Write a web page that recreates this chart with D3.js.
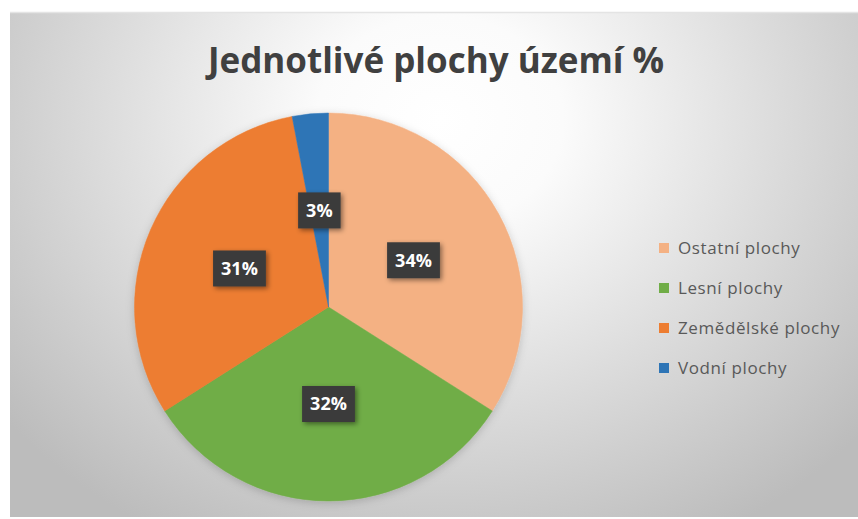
<!DOCTYPE html>
<html>
<head>
<meta charset="utf-8">
<script src="https://cdn.jsdelivr.net/npm/d3@7"></script>
<style>
  html, body { margin: 0; padding: 0; background: #ffffff; }
  svg { display: block; }
</style>
</head>
<body>
<svg id="chart" width="858" height="519"></svg>
<script>
// Land-use shares of the territory, in percent
const categories = ["Ostatní plochy", "Lesní plochy", "Zemědělské plochy", "Vodní plochy"];
const values = [34, 32, 31, 3];
const colors = ["#F4B183", "#70AD47", "#ED7D31", "#2E75B6"];
const titleText = "Jednotlivé plochy území %";

const W = 858, H = 519;
const svg = d3.select("#chart");
const defs = svg.append("defs");

// soft radial background of the chart area
const bg = defs.append("radialGradient")
  .attr("id", "bgGrad")
  .attr("gradientUnits", "userSpaceOnUse")
  .attr("cx", 440).attr("cy", 120).attr("r", 560)
  .attr("gradientTransform", "translate(440,120) scale(1,0.85) translate(-440,-120)");
bg.append("stop").attr("offset", "0").attr("stop-color", "#ffffff");
bg.append("stop").attr("offset", "0.22").attr("stop-color", "#fbfbfb");
bg.append("stop").attr("offset", "0.6").attr("stop-color", "#dcdcdc");
bg.append("stop").attr("offset", "1").attr("stop-color", "#bcbcbc");

const shadow = defs.append("filter").attr("id", "boxShadow")
  .attr("x", "-40%").attr("y", "-40%").attr("width", "180%").attr("height", "180%");
shadow.append("feDropShadow")
  .attr("dx", 2).attr("dy", 2).attr("stdDeviation", 2.5)
  .attr("flood-color", "#000").attr("flood-opacity", 0.45);

const pieShadow = defs.append("filter").attr("id", "pieShadow")
  .attr("x", "-20%").attr("y", "-20%").attr("width", "140%").attr("height", "140%");
pieShadow.append("feDropShadow")
  .attr("dx", 0).attr("dy", 2).attr("stdDeviation", 4)
  .attr("flood-color", "#000").attr("flood-opacity", 0.18);

// chart area
const area = { x: 10, y: 12, w: W - 10, h: H - 14 };
svg.append("rect")
  .attr("x", area.x).attr("y", area.y)
  .attr("width", area.w).attr("height", area.h)
  .attr("fill", "url(#bgGrad)");
svg.append("line")
  .attr("x1", area.x).attr("x2", area.x + area.w)
  .attr("y1", area.y + 0.5).attr("y2", area.y + 0.5)
  .attr("stroke", "#e4e4e4").attr("stroke-width", 1.5);

// title
svg.append("text")
  .attr("x", 436).attr("y", 73)
  .attr("text-anchor", "middle")
  .attr("font-family", "'Open Sans', 'Noto Sans', sans-serif")
  .attr("font-weight", 700)
  .attr("font-size", 35)
  .attr("fill", "#404040")
  .text(titleText);

// pie
const cx = 328.5, cy = 307, R = 194;
const data = categories.map((c, i) => ({ name: c, value: values[i], color: colors[i] }));
const pie = d3.pie().sort(null).value(d => d.value).startAngle(0).endAngle(2 * Math.PI);
const arcs = pie(data);
const arc = d3.arc().innerRadius(0).outerRadius(R);
const labelArc = d3.arc().innerRadius(R * 0.5).outerRadius(R * 0.5);

const g = svg.append("g").attr("transform", `translate(${cx},${cy})`);
g.append("g").attr("filter", "url(#pieShadow)")
  .selectAll("path")
  .data(arcs)
  .join("path")
  .attr("d", arc)
  .attr("fill", d => d.data.color)
  .attr("stroke", d => d.data.color)
  .attr("stroke-width", 0.5);

// data labels: white bold text on dark boxes
const labels = g.selectAll("g.lbl")
  .data(arcs)
  .join("g")
  .attr("class", "lbl")
  .attr("transform", d => `translate(${labelArc.centroid(d)})`);

labels.each(function (d) {
  const lg = d3.select(this);
  const box = lg.append("rect").attr("fill", "#3b3b3b").attr("filter", "url(#boxShadow)");
  const t = lg.append("text")
    .attr("text-anchor", "middle")
    .attr("dy", "0.36em")
    .attr("font-family", "'Open Sans', 'Noto Sans', sans-serif")
    .attr("font-weight", 700)
    .attr("font-size", 18)
    .attr("fill", "#ffffff")
    .text(d.data.value + "%");
  const w = t.node().getComputedTextLength();
  const bw = w + 16, bh = 36;
  box.attr("x", -bw / 2).attr("y", -bh / 2).attr("width", bw).attr("height", bh);
});

// legend
const legend = svg.append("g").attr("transform", "translate(659,248)");
const items = legend.selectAll("g")
  .data(data)
  .join("g")
  .attr("transform", (d, i) => `translate(0,${i * 40})`);
items.append("rect")
  .attr("x", 0).attr("y", -5)
  .attr("width", 10).attr("height", 10)
  .attr("fill", d => d.color);
items.append("text")
  .attr("x", 19).attr("y", 0).attr("dy", "0.35em")
  .attr("font-family", "'Open Sans', 'Noto Sans', sans-serif")
  .attr("font-size", 17)
  .attr("letter-spacing", 0.6)
  .attr("fill", "#595959")
  .text(d => d.name);
</script>
</body>
</html>
